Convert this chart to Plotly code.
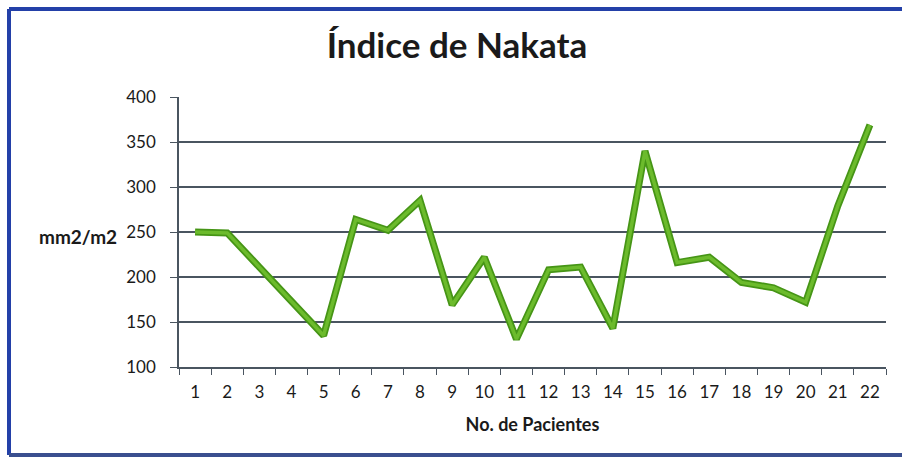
import plotly.graph_objects as go

pacientes = [str(i) for i in range(1, 23)]
indice_nakata = [250, 249, 211, 173, 135, 264, 252, 285, 169, 222, 131, 208,
                 211, 143, 340, 216, 222, 194, 188, 172, 279, 369]
y_ticks = [100, 150, 200, 250, 300, 350, 400]

W, H = 902, 459
L, R, T, B = 179, 16, 97, 92
pw, ph = W - L - R, H - T - B

def px(x):
    return (x - L) / pw

def py(y):
    return (H - B - y) / ph

fig = go.Figure()
fig.add_trace(go.Scatter(x=pacientes, y=indice_nakata, mode="lines",
                         line=dict(color="#469516", width=7), hoverinfo="skip",
                         showlegend=False))
fig.add_trace(go.Scatter(x=pacientes, y=indice_nakata, mode="lines",
                         line=dict(color="#6cbb2c", width=3.5),
                         showlegend=False))

font_main = "Lato, 'Open Sans', sans-serif"
border = dict(color="#2340a8", width=4)

fig.update_layout(
    width=W, height=H,
    margin=dict(l=L, r=R, t=T, b=B, autoexpand=False),
    paper_bgcolor="white", plot_bgcolor="white",
    title=dict(text="<b>Índice de Nakata</b>", x=px(457), xref="paper",
               xanchor="center", y=1 - 46 / H, yanchor="middle",
               font=dict(family=font_main, size=35, color="#1a1a1a"),
               automargin=False),
    xaxis=dict(type="category", range=[-0.5, len(pacientes) - 0.5],
               tickson="boundaries", ticks="outside", automargin=False,
               ticklen=6, tickcolor="#4a5560", showline=True, linecolor="#4a5560",
               linewidth=1.5, showgrid=False, ticklabelstandoff=9,
               tickfont=dict(family=font_main, size=17, color="#1a1a1a"),
               title=dict(text="<b>No. de Pacientes</b>", standoff=17,
                          font=dict(family=font_main, size=18, color="#1a1a1a"))),
    yaxis=dict(range=[100, 400], tickvals=y_ticks, ticks="outside", ticklen=7,
               automargin=False, ticklabelstandoff=11,
               tickcolor="#4a5560", showline=True, linecolor="#4a5560",
               linewidth=1.5, showgrid=True, gridcolor="#4a5560", gridwidth=1.5,
               zeroline=False,
               tickfont=dict(family=font_main, size=17, color="#1a1a1a")),
    annotations=[dict(text="<b>mm2/m2</b>", x=px(78), y=py(236), xref="paper",
                      yref="paper", showarrow=False, xanchor="center",
                      yanchor="middle",
                      font=dict(family=font_main, size=19, color="#1a1a1a"))],
    shapes=[
        dict(type="line", xref="paper", yref="paper", x0=px(9), x1=px(9),
             y0=py(455), y1=py(9), line=border, layer="below"),
        dict(type="line", xref="paper", yref="paper", x0=px(9), x1=px(902),
             y0=py(9), y1=py(9), line=border, layer="below"),
        dict(type="line", xref="paper", yref="paper", x0=px(9), x1=px(902),
             y0=py(455), y1=py(455), line=dict(color="#3a4f8f", width=4),
             layer="below"),
    ],
)

fig.write_html("out.html", config={"displayModeBar": False},
               post_script="document.body.style.margin='0';")
